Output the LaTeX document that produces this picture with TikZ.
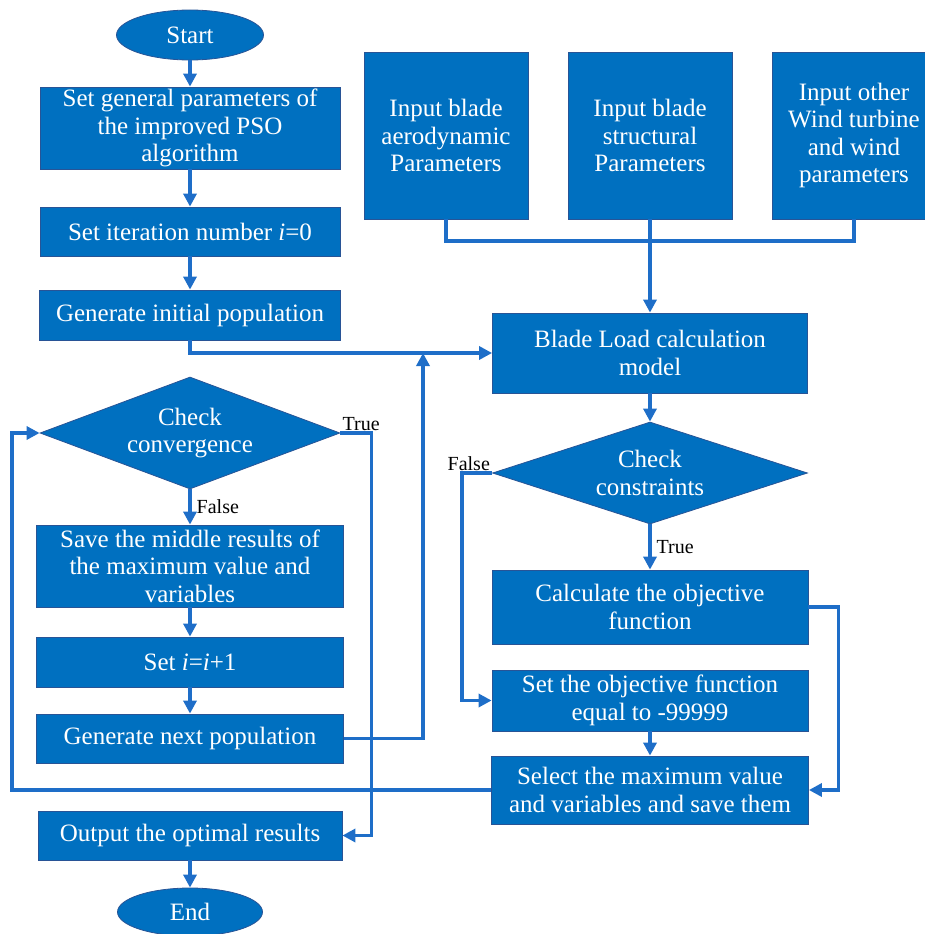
\documentclass[tikz,border=0pt]{standalone}
\usepackage{fontspec}
\setmainfont{Liberation Serif}
\usetikzlibrary{shapes.geometric,arrows.meta}
\definecolor{boxblue}{RGB}{0,112,192}
\definecolor{boxedge}{RGB}{40,84,150}
\definecolor{lineblue}{RGB}{30,110,200}
\newcommand{\boxfont}{\fontsize{25}{27.5}\selectfont}
\newcommand{\notefont}{\fontsize{20}{22}\selectfont}
\tikzset{
  procbox/.style={draw=boxedge, fill=boxblue, text=white, rectangle, align=center, line width=0.8pt, inner sep=0pt, font=\boxfont},
  termbox/.style={procbox, ellipse},
  decbox/.style={procbox, diamond},
  flow/.style={draw=lineblue, line width=3.4pt, -{Triangle[length=13pt,width=13pt]}},
  link/.style={draw=lineblue, line width=3.4pt},
  note/.style={font=\notefont, text=black, inner sep=2pt}
}
\begin{document}
\begin{tikzpicture}[x=1pt, y=1pt]
  \useasboundingbox (0,0) rectangle (925,-934);
  % left column: optimisation loop
  \node[termbox, minimum width=147pt, minimum height=50pt] (start) at (190,-35) {Start};
  \node[procbox, node distance=93pt, below of=start, minimum width=300pt, minimum height=82pt] (setgen) {Set general parameters of\\the improved PSO\\algorithm};
  \node[procbox, node distance=103.5pt, below of=setgen, minimum width=300pt, minimum height=49pt] (setiter) {Set iteration number \textit{i}=0};
  \node[procbox, node distance=83.5pt, below of=setiter, minimum width=301pt, minimum height=50pt] (geninit) {Generate initial population};
  \node[decbox, node distance=118pt, below of=geninit, aspect=2.68, minimum width=300pt, minimum height=112pt] (conv) {Check\\convergence};
  \node[procbox, node distance=133pt, below of=conv, minimum width=307pt, minimum height=82pt] (save) {Save the middle results of\\the maximum value and\\variables};
  \node[procbox, node distance=96pt, below of=save, minimum width=307pt, minimum height=50pt] (seti) {Set \textit{i}=\textit{i}+1};
  \node[procbox, node distance=76.5pt, below of=seti, minimum width=307pt, minimum height=49pt] (gennext) {Generate next population};
  \node[procbox, node distance=97pt, below of=gennext, minimum width=304pt, minimum height=49pt] (output) {Output the optimal results};
  \node[termbox, node distance=76.5pt, below of=output, minimum width=145pt, minimum height=48pt] (end) {End};

  % right column: load model
  \node[procbox, minimum width=164pt, minimum height=167pt] (aero) at (446,-135.5) {Input blade\\aerodynamic\\Parameters};
  \node[procbox, minimum width=164pt, minimum height=167pt] (struct) at (650,-135.5) {Input blade\\structural\\Parameters};
  \node[procbox, minimum width=164pt, minimum height=167pt] (other) at (854,-135.5) {Input other\\Wind turbine\\and wind\\parameters};
  \node[procbox, minimum width=315pt, minimum height=80pt] (blade) at (650,-353) {Blade Load calculation\\model};
  \node[decbox, node distance=120pt, below of=blade, aspect=3.09, minimum width=315pt, minimum height=102pt] (cons) {Check\\constraints};
  \node[procbox, node distance=134pt, below of=cons, minimum width=316pt, minimum height=74pt] (calc) {Calculate the objective\\function};
  \node[procbox, node distance=93.5pt, below of=calc, minimum width=316pt, minimum height=61pt] (setobj) {Set the objective function\\equal to -99999};
  \node[procbox, node distance=89.5pt, below of=setobj, minimum width=317pt, minimum height=68pt] (select) {Select the maximum value\\and variables and save them};

  \coordinate (bus) at (650,-241);
  \coordinate (merge) at (423,-353);
  \coordinate (loopcorner) at (12,-790);

  \draw[flow] (start) -- (setgen);
  \draw[flow] (setgen) -- (setiter);
  \draw[flow] (setiter) -- (geninit);
  \draw[flow] (geninit.south) |- (blade.west);
  \draw[flow] (conv) -- node[note, right=3pt] (falseconv) {False} (save);
  \draw[flow] (save) -- (seti);
  \draw[flow] (seti) -- (gennext);
  \draw[flow] (gennext.east) -| (merge);
  \draw[flow] (conv.east) -- ++(31,0) |- (output.east);
  \node[note, anchor=south west] (trueconv) at (conv.east) {True};
  \draw[flow] (output) -- (end);

  \draw[link] (aero.south) |- (bus) -| (other.south);
  \draw[flow] (struct.south) -- (blade.north);
  \draw[flow] (blade) -- (cons);
  \draw[flow] (cons) -- node[note, right=3pt] (truecons) {True} (calc);
  \draw[flow] (cons.west) -- ++(-30,0) |- (setobj.west);
  \node[note, anchor=south east] (falsecons) at (cons.west) {False};
  \draw[flow] (calc.east) -- ++(30,0) |- (select.east);
  \draw[flow] (setobj) -- (select);
  \draw[flow] (select.west) -- (loopcorner) |- (conv.west);
\end{tikzpicture}
\end{document}
